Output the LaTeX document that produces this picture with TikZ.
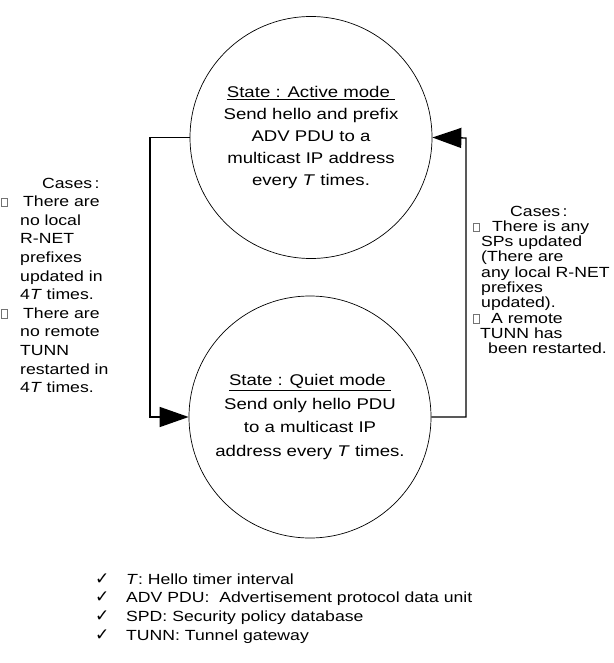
\documentclass[tikz,border=0pt]{standalone}
\usepackage{fontspec}
\setmainfont{Liberation Sans}[FakeStretch=1.2]
\newfontfamily\dejavu{DejaVu Sans}
\usetikzlibrary{arrows.meta}
\tikzset{
  state/.style={circle, draw=black, line width=0.7pt, fill=white, minimum size=242pt, inner sep=0pt, align=center},
  conn/.style={draw=black, line width=1.4pt},
  tip/.style={-{Triangle[length=29pt,width=20pt]}},
  side/.style={anchor=base west, inner sep=0pt, font=\fontsize{14.7}{17}\selectfont},
  boxsq/.style={anchor=south west, draw=black!55, line width=0.6pt, minimum width=6.5pt, minimum height=8.5pt, inner sep=0pt, outer sep=0pt},
  listt/.style={anchor=base west, inner sep=0pt, font=\fontsize{14.7}{17}\selectfont},
  chk/.style={anchor=base west, inner sep=0pt, font=\dejavu\fontsize{17}{18}\selectfont}
}
\begin{document}
\begin{tikzpicture}[x=1pt,y=-1pt]
\useasboundingbox (0,0) rectangle (613,663);
\node[state, font=\fontsize{15.5}{22}\selectfont] (active) at (311,137.5)
  {\underline{State : Active mode\ }\\ Send hello and prefix\\ ADV PDU to a\\ multicast IP address\\ every \textit{T} times.};
\node[state, font=\fontsize{15.5}{23.5}\selectfont] (quiet) at (310,417)
  {\underline{State : Quiet mode\ }\\ Send only hello PDU\\ to a multicast IP\\ address every \textit{T} times.};
\coordinate (lc1) at (150,137.5);
\coordinate (lc2) at (150,417);
\coordinate (rc1) at (466,417);
\coordinate (rc2) at (466,138);
\draw[conn, tip] (active.west) -- (lc1) -- (lc2) -- (quiet.west);
\draw[conn, tip] (quiet.east) -- (rc1) -- (rc2) -- (active.east);
% left cases
\foreach \x/\y/\t [count=\i] in {
  42/188/{Cases\,:},
  23/206.6/{There are},
  20/225.2/{no local},
  20/243.8/{R-NET},
  20/262.4/{prefixes},
  20/281/{updated in},
  20/299.6/{4\textit{T} times.},
  23/318.2/{There are},
  20/336.8/{no remote},
  20/355.4/{TUNN},
  20/374/{restarted in},
  20/392.6/{4\textit{T} times.}}
  \node[side] (l\i) at (\x,\y) {\t};
\node[boxsq] (lb1) at (1,206.6) {};
\node[boxsq] (lb2) at (1,318.2) {};
% right cases
\foreach \x/\y/\t [count=\i] in {
  510/216/{Cases\,:},
  492/231.3/{There is any},
  481/246.6/{SPs updated},
  481/261.9/{(There are},
  481/277.2/{any local R-NET},
  481/292.5/{prefixes},
  481/307.8/{updated).},
  491/323.1/{A remote},
  480/338.4/{TUNN has},
  488/353.7/{been restarted.}}
  \node[side] (r\i) at (\x,\y) {\t};
\node[boxsq] (rb1) at (473,231.3) {};
\node[boxsq] (rb2) at (473,323.1) {};
% legend
\foreach \y/\t [count=\i] in {
  584/{\textit{T}: Hello timer interval},
  602.7/{ADV PDU:\ \ Advertisement protocol data unit},
  621.4/{SPD:\ Security policy database},
  640/{TUNN: Tunnel gateway}}
{
  \node[chk] (c\i) at (95,\y) {✓};
  \node[listt] (t\i) at (126,\y) {\t};
}
\end{tikzpicture}
\end{document}
